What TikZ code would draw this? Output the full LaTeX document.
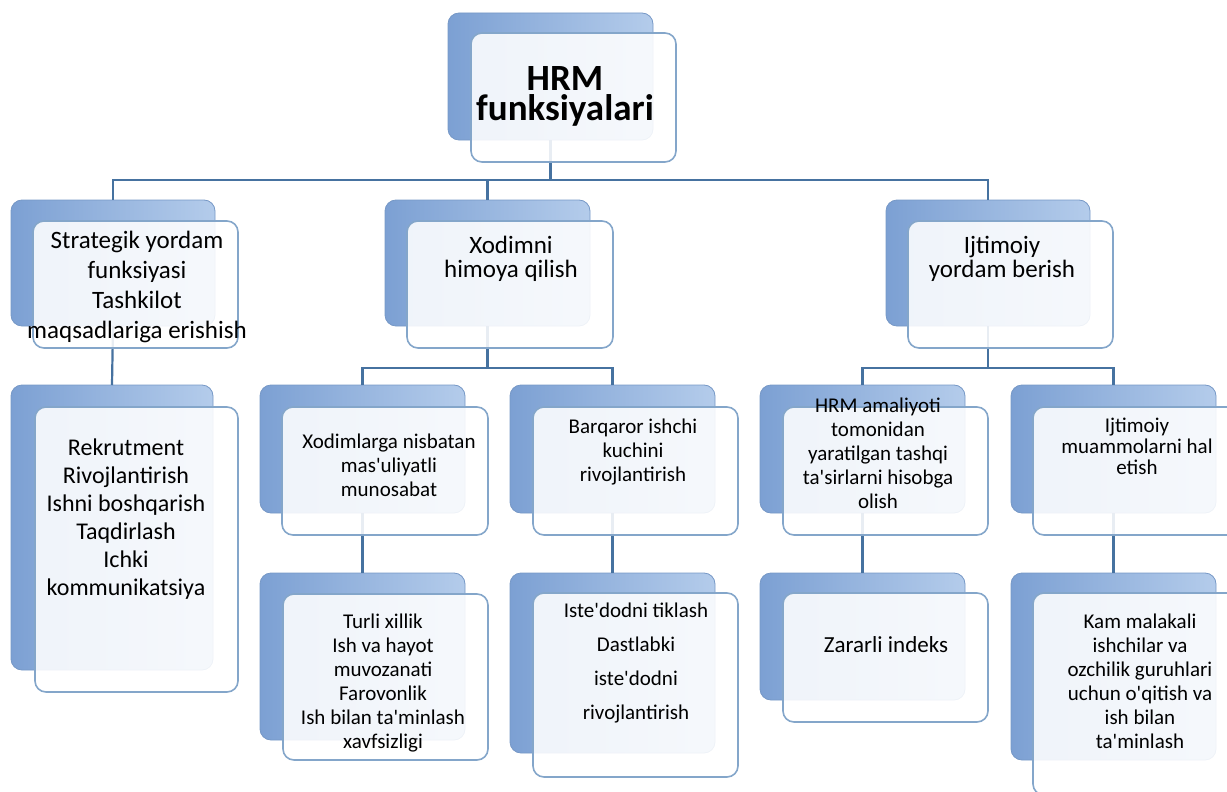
\documentclass[tikz,border=0pt]{standalone}
\usepackage{fontspec}
\setmainfont{Carlito}[Ligatures=TeXOff]
\definecolor{conncol}{RGB}{70,114,160}
\definecolor{backL}{RGB}{124,160,211}
\definecolor{backR}{RGB}{180,204,235}
\definecolor{backB}{RGB}{118,152,198}
\definecolor{frontB}{RGB}{132,166,202}
\tikzset{
  conn/.style={draw=conncol,line width=2.2pt},
  backbox/.style={rectangle,rounded corners=11pt,draw=backB,line width=0.8pt,
    left color=backL,right color=backR,inner sep=0pt,outer sep=0pt},
  frontbox/.style={rectangle,rounded corners=11pt,draw=frontB,line width=1.6pt,
    fill=white,fill opacity=0.88,inner sep=0pt,outer sep=0pt},
  txt/.style={align=center,inner sep=0pt,text=black},
  big/.style={txt,font=\fontsize{37}{30}\selectfont\bfseries},
  mid/.style={txt,font=\fontsize{25}{30}\selectfont},
  midt/.style={txt,font=\fontsize{25}{24}\selectfont},
  lst/.style={txt,font=\fontsize{24}{28}\selectfont},
  sml/.style={txt,font=\fontsize{21}{24}\selectfont},
}
\begin{document}
\begin{tikzpicture}[x=1pt,y=-1pt]
\useasboundingbox (0,0) rectangle (1227,792);
\clip (0,0) rectangle (1227,792);
% back boxes
\node[backbox,minimum width=205pt,minimum height=127pt] (b0) at (550.5,76.5) {};
\node[backbox,minimum width=204pt,minimum height=126pt] (b1) at (113,263) {};
\node[backbox,minimum width=205pt,minimum height=126pt] (b2) at (487.5,263) {};
\node[backbox,minimum width=204pt,minimum height=126pt] (b3) at (988,263) {};
\node[backbox,minimum width=202pt,minimum height=285pt] (d0) at (112,527.5) {};
\node[backbox,minimum width=205pt,minimum height=128pt] (c1) at (362.5,449) {};
\node[backbox,minimum width=205pt,minimum height=128pt] (c2) at (612.5,449) {};
\node[backbox,minimum width=205pt,minimum height=128pt] (c3) at (862.5,449) {};
\node[backbox,minimum width=205pt,minimum height=128pt] (c4) at (1113.5,449) {};
\node[backbox,minimum width=205pt,minimum height=167pt] (e1) at (362.5,656.5) {};
\node[backbox,minimum width=205pt,minimum height=180pt] (e2) at (612.5,663) {};
\node[backbox,minimum width=205pt,minimum height=127pt] (e3) at (862.5,636.5) {};
\node[backbox,minimum width=205pt,minimum height=187pt] (e4) at (1113.5,666.5) {};
% connectors
\coordinate (j0) at (550.5,180);
\coordinate (j2) at (487.5,368);
\coordinate (j3) at (988,368);
\draw[conn] (b0.south) -- (j0);
\draw[conn] (j0) -| (b1.north);
\draw[conn] (j0) -| (b2.north);
\draw[conn] (j0) -| (b3.north);
\draw[conn] (b1.south) -- (d0.north);
\draw[conn] (b2.south) -- (j2);
\draw[conn] (j2) -| (c1.north);
\draw[conn] (j2) -| (c2.north);
\draw[conn] (b3.south) -- (j3);
\draw[conn] (j3) -| (c3.north);
\draw[conn] (j3) -| (c4.north);
\draw[conn] (c1.south) -- (e1.north);
\draw[conn] (c2.south) -- (e2.north);
\draw[conn] (c3.south) -- (e3.north);
\draw[conn] (c4.south) -- (e4.north);
% front boxes
\node[frontbox,minimum width=205pt,minimum height=129pt] (f0) at (573.5,97.5) {};
\node[frontbox,minimum width=205pt,minimum height=127pt] (f1) at (135.5,284.5) {};
\node[frontbox,minimum width=206pt,minimum height=127pt] (f2) at (510,284.5) {};
\node[frontbox,minimum width=205pt,minimum height=127pt] (f3) at (1010.5,284.5) {};
\node[frontbox,minimum width=203pt,minimum height=285pt] (g0) at (136.5,549.5) {};
\node[frontbox,minimum width=206pt,minimum height=128pt] (g1) at (385,471) {};
\node[frontbox,minimum width=205pt,minimum height=128pt] (g2) at (635.5,471) {};
\node[frontbox,minimum width=205pt,minimum height=128pt] (g3) at (885.5,471) {};
\node[frontbox,minimum width=205pt,minimum height=128pt] (g4) at (1135.5,471) {};
\node[frontbox,minimum width=205pt,minimum height=166pt] (h1) at (385.5,677) {};
\node[frontbox,minimum width=205pt,minimum height=184pt] (h2) at (635.5,685) {};
\node[frontbox,minimum width=205pt,minimum height=129pt] (h3) at (885.5,657.5) {};
\node[frontbox,minimum width=205pt,minimum height=202pt] (h4) at (1135.5,694) {};
% texts
\node[big] (t0) at (565,96) {HRM\\funksiyalari};
\node[mid] (t1) at (137,287) {Strategik yordam\\funksiyasi\\Tashkilot\\maqsadlariga erishish};
\node[midt] (t2) at (511,259) {Xodimni\\himoya qilish};
\node[midt] (t3) at (1002,259) {Ijtimoiy\\yordam berish};
\node[lst] (u0) at (126,519) {Rekrutment\\Rivojlantirish\\Ishni boshqarish\\Taqdirlash\\Ichki\\kommunikatsiya};
\node[sml] (u1) at (389,465) {Xodimlarga nisbatan\\mas'uliyatli\\munosabat};
\node[sml] (u2) at (633,452) {Barqaror ishchi\\kuchini\\rivojlantirish};
\node[sml] (u3) at (878,453) {HRM amaliyoti\\tomonidan\\yaratilgan tashqi\\ta'sirlarni hisobga\\olish};
\node[sml,font=\fontsize{21}{21}\selectfont] (u4) at (1137,446) {Ijtimoiy\\muammolarni hal\\etish};
\node[sml] (v1) at (383,683) {Turli xillik\\Ish va hayot\\muvozanati\\Farovonlik\\Ish bilan ta'minlash\\xavfsizligi};
\node[sml,font=\fontsize{21}{34}\selectfont] (v2) at (636,663) {Iste'dodni tiklash\\Dastlabki\\iste'dodni\\rivojlantirish};
\node[sml,font=\fontsize{23}{26}\selectfont] (v3) at (886,645) {Zararli indeks};
\node[sml] (v4) at (1140,681) {Kam malakali\\ishchilar va\\ozchilik guruhlari\\uchun o'qitish va\\ish bilan\\ta'minlash};
\end{tikzpicture}
\end{document}
